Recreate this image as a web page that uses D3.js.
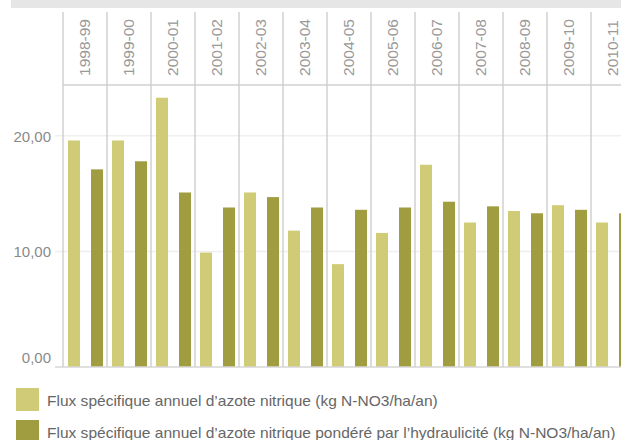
<!DOCTYPE html>
<html>
<head>
<meta charset="utf-8" />
<title>Flux spécifique annuel d'azote nitrique</title>
<style>
body { margin: 0; background: #fff; }
text { font-family: "Liberation Sans", Arial, sans-serif; }
</style>
</head>
<body>
<div id="graph"></div>
<script src="https://d3js.org/d3.v7.min.js"></script>
<script>
// campagnes (années hydrologiques)
var years = ["1998-99", "1999-00", "2000-01", "2001-02", "2002-03", "2003-04", "2004-05",
             "2005-06", "2006-07", "2007-08", "2008-09", "2009-10", "2010-11"];
// flux spécifique annuel (kg N-NO3/ha/an)
var fluxBrut = [19.6, 19.6, 23.3, 9.9, 15.1, 11.8, 8.9, 11.6, 17.5, 12.5, 13.5, 14.0, 12.5];
// flux pondéré par l'hydraulicité
var fluxPondere = [17.1, 17.8, 15.1, 13.8, 14.7, 13.8, 13.6, 13.8, 14.3, 13.9, 13.3, 13.6, 13.3];
var yTicks = [0, 10, 20];
var series = [
  {name: "Flux spécifique annuel d\u2019azote nitrique (kg N-NO3/ha/an)", values: fluxBrut, color: "#cfcb76"},
  {name: "Flux spécifique annuel d\u2019azote nitrique pondéré par l\u2019hydraulicité (kg N-NO3/ha/an)", values: fluxPondere, color: "#a09c40"}
];

var width = 621, height = 440;
var left = 63, colW = 44;
var headTop = 12, headBottom = 85, base = 367;

var svg = d3.select("#graph").append("svg")
  .attr("width", width)
  .attr("height", height);

// bandeau gris en haut
svg.append("rect")
  .attr("x", 11).attr("y", 0)
  .attr("width", width - 11).attr("height", 8)
  .attr("fill", "#e6e6e6");

var x0 = d3.scaleBand()
  .domain(years)
  .range([left, left + colW * years.length]);

var x1 = d3.scaleBand()
  .domain([0, 1])
  .range([5, 40])
  .paddingInner(11 / 23);

var y = d3.scaleLinear()
  .domain([0, 24.4])
  .range([base, headBottom]);

var fmt = d3.formatLocale({decimal: ",", thousands: " ", grouping: [3], currency: ["", " €"]}).format(".2f");

// ajuste la taille de police pour que le premier texte fasse "target" px
function fitFont(sel, size, target) {
  var len = sel.node().getComputedTextLength();
  sel.style("font-size", (size * target / len) + "px");
}

// grille horizontale
svg.selectAll(".grid")
  .data(yTicks.filter(d => d > 0))
  .enter().append("line")
  .attr("x1", 55).attr("x2", width)
  .attr("y1", d => y(d)).attr("y2", d => y(d))
  .attr("stroke", "#efefef")
  .attr("stroke-width", 1.5);

// libellés axe y
svg.selectAll(".ylab")
  .data(yTicks)
  .enter().append("text")
  .attr("x", 51)
  .attr("y", d => y(d))
  .attr("dy", d => d === 0 ? "-0.25em" : "0.38em")
  .attr("text-anchor", "end")
  .attr("fill", "#8a8a8a")
  .style("font-size", "15px")
  .text(d => fmt(d));

// barres
var groups = svg.selectAll(".year")
  .data(years)
  .enter().append("g")
  .attr("transform", d => "translate(" + x0(d) + ",0)");

groups.selectAll("rect")
  .data((d, i) => series.map((s, k) => ({k: k, v: s.values[i], color: s.color})))
  .enter().append("rect")
  .attr("x", d => x1(d.k))
  .attr("width", x1.bandwidth())
  .attr("y", d => y(d.v))
  .attr("height", d => y(0) - y(d.v))
  .attr("fill", d => d.color);

// ligne de base
svg.append("line")
  .attr("x1", 55).attr("x2", width)
  .attr("y1", base).attr("y2", base)
  .attr("stroke", "#d6d6d6")
  .attr("stroke-width", 1.5);

// séparation en-tête / zone graphique
svg.append("line")
  .attr("x1", left).attr("x2", width)
  .attr("y1", headBottom).attr("y2", headBottom)
  .attr("stroke", "#d0d0d0")
  .attr("stroke-width", 1.3);

// séparateurs verticaux
var bounds = years.map(d => x0(d)).concat([x0.range()[1]]);
svg.selectAll(".sep")
  .data(bounds)
  .enter().append("line")
  .attr("x1", d => d).attr("x2", d => d)
  .attr("y1", headTop).attr("y2", base)
  .attr("stroke", "#cdcdcd")
  .attr("stroke-width", 1.4);

// en-têtes de colonnes (texte vertical)
var heads = svg.selectAll(".head")
  .data(years)
  .enter().append("text")
  .attr("transform", d => "translate(" + (x0(d) + colW / 2 + 4.5) + "," + 76 + ") rotate(-90)")
  .attr("fill", "#999")
  .style("font-size", "14px")
  .text(d => d);
fitFont(heads, 14, 57);

// légende
var legend = svg.selectAll(".legend")
  .data(series)
  .enter().append("g")
  .attr("transform", (d, i) => "translate(16," + (388 + i * 32) + ")");

legend.append("rect")
  .attr("width", 23).attr("height", 23)
  .attr("fill", d => d.color);

var legText = legend.append("text")
  .attr("x", 31).attr("y", 18)
  .attr("fill", "#666")
  .style("font-size", "15.5px")
  .text(d => d.name);
fitFont(legText, 15.5, 391);
</script>
</body>
</html>
